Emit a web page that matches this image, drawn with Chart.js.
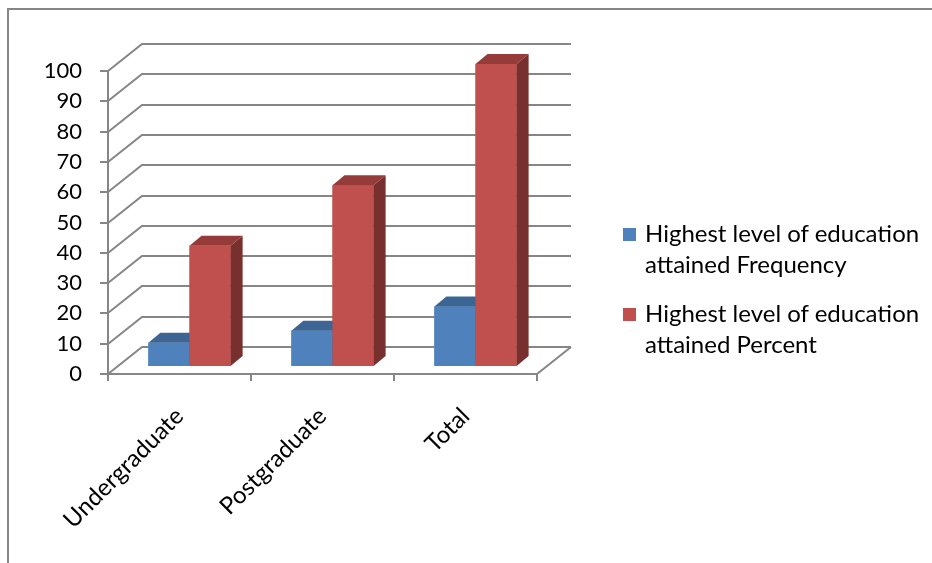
<!DOCTYPE html>
<html>
<head>
<meta charset="utf-8">
<script src="https://cdn.jsdelivr.net/npm/chart.js@4.4.0/dist/chart.umd.min.js"></script>
<style>
    html, body { margin: 0; padding: 0; background: #fff; }
    #wrap { position: relative; width: 932px; height: 563px; overflow: hidden; }
    #frame { position: absolute; left: 7px; top: 8px; width: 1000px; height: 700px; border: 2px solid #868686; box-sizing: border-box; }
    #chart { position: absolute; left: 0; top: 0; }
    #legend { position: absolute; left: 623px; top: 0; font-family: Lato, sans-serif; font-size: 24px; color: #000; }
    .item { position: absolute; left: 0; width: 300px; }
    .item .box { position: absolute; left: 0; top: 11px; width: 13px; height: 13px; }
    .item .txt { position: absolute; left: 22px; top: 0; width: 285px; line-height: 31px; }
</style>
</head>
<body>
<div id="wrap">
    <div id="frame"></div>
    <canvas id="chart" width="932" height="563"></canvas>
    <div id="legend"></div>
</div>
<script>
// Highest level of education attained

const categories = ['Undergraduate', 'Postgraduate', 'Total'];
const frequency = [8, 12, 20];
const percent = [40, 60, 100];
const seriesNames = [
    'Highest level of education attained Frequency',
    'Highest level of education attained Percent'
];
const yTicks = [0, 10, 20, 30, 40, 50, 60, 70, 80, 90, 100];

const GRID = '#868686';
const FONT = 'Lato';

// 3d offsets: back wall, bar mid-depth, bar thickness
const wallDX = 34, wallDY = -27;
const barDX = 10, barDY = -7;
const sideDX = 12, sideDY = -10;

const fake3d = {
    id: 'fake3d',
    beforeDatasetsDraw(chart) {
        const { ctx, chartArea: a, scales: { y } } = chart;
        ctx.save();
        ctx.strokeStyle = GRID;
        ctx.lineWidth = 2;
        ctx.beginPath();
        y.ticks.forEach(t => {
            const py = Math.round(y.getPixelForValue(t.value));
            ctx.moveTo(a.left, py);
            ctx.lineTo(a.left + wallDX, py + wallDY);
            ctx.lineTo(a.right + wallDX, py + wallDY);
        });
        ctx.moveTo(a.right, a.bottom);
        ctx.lineTo(a.right + wallDX, a.bottom + wallDY);
        ctx.stroke();
        ctx.restore();

        // push the bars back to the middle of the floor
        ctx.save();
        ctx.translate(barDX, barDY);
    },
    afterDatasetsDraw(chart) {
        const ctx = chart.ctx;
        const metas = chart.data.datasets.map((d, i) => chart.getDatasetMeta(i));
        for (let j = 0; j < categories.length; j++) {
            metas.forEach((meta, i) => {
                const ds = chart.data.datasets[i];
                const { x, y, base, width } = meta.data[j].getProps(['x', 'y', 'base', 'width'], true);
                const l = x - width / 2, r = x + width / 2;

                ctx.fillStyle = ds.backgroundColor;
                ctx.fillRect(l, y, width, base - y);

                ctx.fillStyle = ds.topColor;
                ctx.beginPath();
                ctx.moveTo(l, y);
                ctx.lineTo(r, y);
                ctx.lineTo(r + sideDX, y + sideDY);
                ctx.lineTo(l + sideDX, y + sideDY);
                ctx.closePath();
                ctx.fill();

                ctx.fillStyle = ds.sideColor;
                ctx.beginPath();
                ctx.moveTo(r, y);
                ctx.lineTo(r + sideDX, y + sideDY);
                ctx.lineTo(r + sideDX, base + sideDY);
                ctx.lineTo(r, base);
                ctx.closePath();
                ctx.fill();
            });
        }
        ctx.restore();
    }
};

const chart = new Chart(document.getElementById('chart'), {
    type: 'bar',
    data: {
        labels: categories,
        datasets: [{
            label: seriesNames[0],
            data: frequency,
            backgroundColor: '#4F81BD',
            topColor: '#3D6594',
            sideColor: '#36598A'
        }, {
            label: seriesNames[1],
            data: percent,
            backgroundColor: '#C0504D',
            topColor: '#953C3A',
            sideColor: '#78302E'
        }]
    },
    options: {
        responsive: false,
        animation: false,
        devicePixelRatio: 1,
        layout: { padding: { top: 71, right: 395, left: 0, bottom: 0 } },
        datasets: { bar: { barPercentage: 1, categoryPercentage: 0.575 } },
        plugins: { legend: { display: false }, tooltip: { enabled: false } },
        scales: {
            x: {
                grid: { offset: true, drawOnChartArea: false, drawTicks: true, tickLength: 7, color: GRID, lineWidth: 2 },
                border: { display: true, color: GRID, width: 2 },
                ticks: { minRotation: 45, maxRotation: 45, padding: 21, color: '#000', font: { family: FONT, size: 24 } },
                afterFit: scale => { scale.height = 189; }
            },
            y: {
                min: 0,
                max: 100,
                afterBuildTicks: scale => { scale.ticks = yTicks.map(v => ({ value: v })); },
                grid: { drawOnChartArea: false, drawTicks: true, tickLength: 8, color: GRID, lineWidth: 2 },
                border: { display: true, color: GRID, width: 2 },
                ticks: { padding: 18, color: '#000', font: { family: FONT, size: 22 } },
                afterFit: scale => { scale.width = 108; }
            }
        }
    },
    plugins: [fake3d]
});

// html legend built from the datasets
const legendEl = document.getElementById('legend');
chart.data.datasets.forEach((ds, i) => {
    const item = document.createElement('div');
    item.className = 'item';
    item.style.top = (217 + i * 80) + 'px';
    const box = document.createElement('span');
    box.className = 'box';
    box.style.background = ds.backgroundColor;
    const txt = document.createElement('span');
    txt.className = 'txt';
    txt.textContent = ds.label;
    item.appendChild(box);
    item.appendChild(txt);
    legendEl.appendChild(item);
});
</script>
</body>
</html>
